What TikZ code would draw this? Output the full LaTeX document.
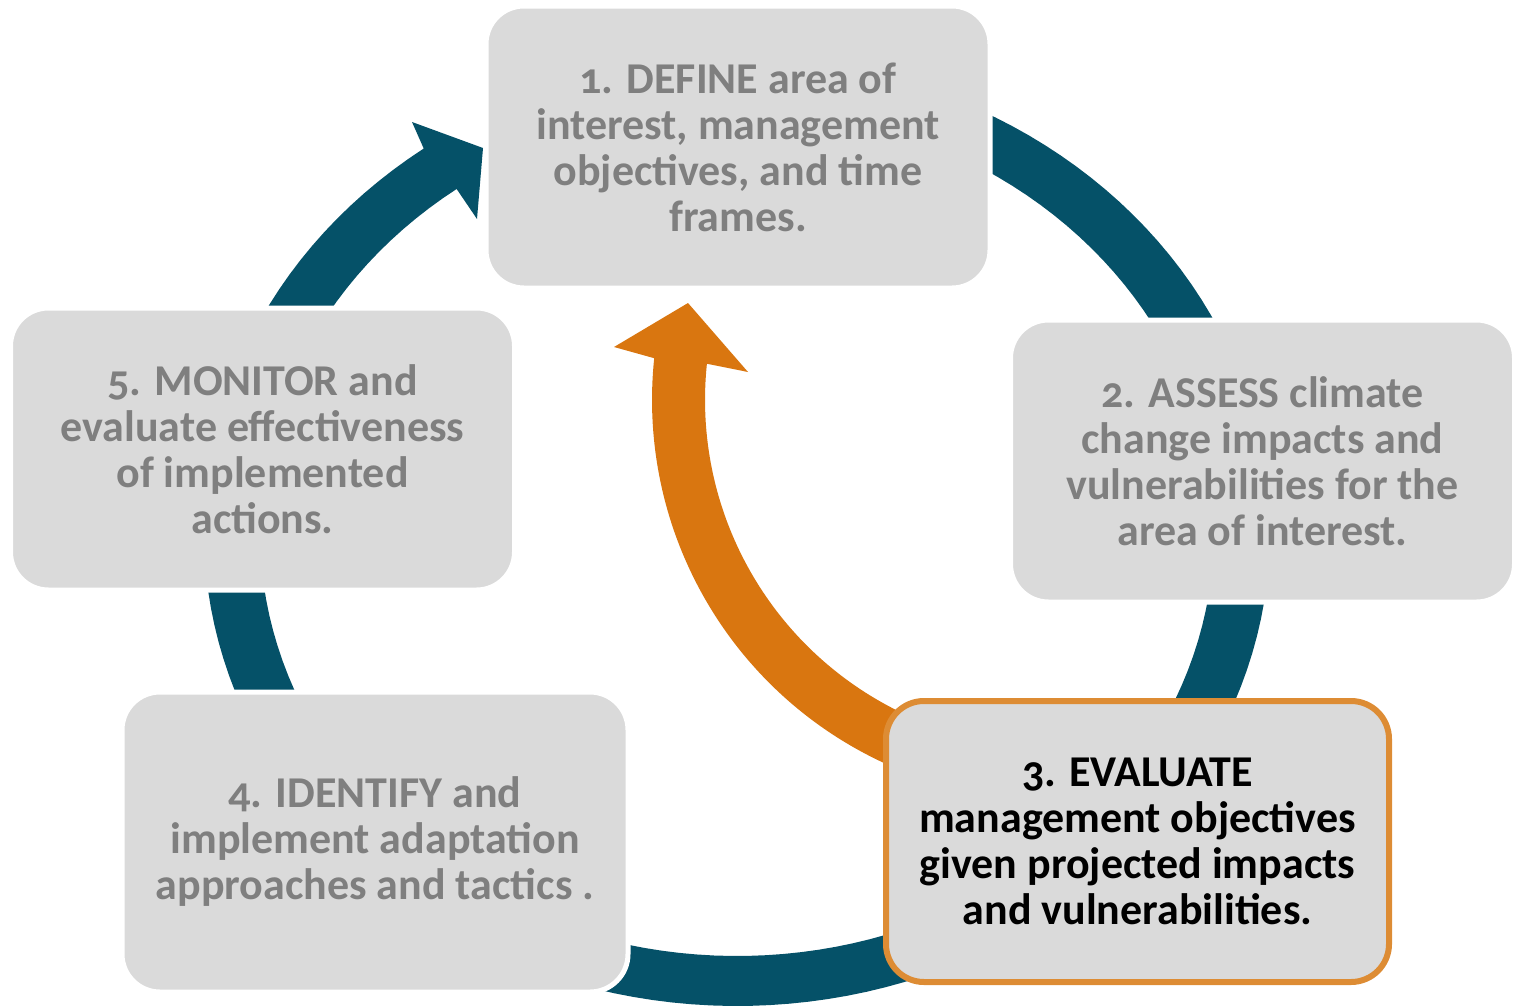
\documentclass[tikz,border=0pt]{standalone}
\usepackage{fontspec}
\setmainfont{Carlito}[Numbers=OldStyle]
\definecolor{ringblue}{RGB}{5,81,104}
\definecolor{arroworange}{RGB}{217,118,16}
\definecolor{boxgray}{RGB}{218,218,218}
\definecolor{txtgray}{RGB}{127,127,127}
\definecolor{hiline}{RGB}{221,140,52}
\begin{document}
\begin{tikzpicture}[x=0.5pt,y=-0.5pt,
  stepbox/.style={draw=white, line width=2.5pt, fill=boxgray, rounded corners=19pt,
    inner sep=0pt, align=center, text=txtgray,
    font=\bfseries\fontsize{22}{23}\selectfont},
  hibox/.style={stepbox, draw=hiline, line width=3pt, text=black}]
\useasboundingbox (0,0) rectangle (1514,1007);
% teal cycle ring with arrowhead
\fill[ringblue] plot[domain=80:-234, samples=150] ({737+533*cos(\x)},{532-474*sin(\x)})
  -- (412,122) -- (483,148) -- (477,219)
  -- plot[domain=-234:80, samples=150] ({737+477*cos(\x)},{532-424*sin(\x)}) -- cycle;
% orange feedback arrow
\fill[arroworange] plot[domain=250:174, samples=80] ({1052+400*cos(\x)},{400-400*sin(\x)})
  -- (614,347) -- (688,303) -- (748,372)
  -- plot[domain=174:250, samples=80] ({1052+347*cos(\x)},{400-347*sin(\x)}) -- cycle;
% boxes
\node[stepbox, minimum width=252pt, minimum height=141pt] (s1) at (738,147)
  {1. DEFINE area of\\ interest, management\\ objectives, and time\\ frames.};
\node[stepbox, minimum width=252pt, minimum height=141pt] (s2) at (1262.5,461)
  {2. ASSESS climate\\ change impacts and\\ vulnerabilities for the\\ area of interest.};
\node[hibox, minimum width=251.5pt, minimum height=140.5pt] (s3) at (1137.5,841.5)
  {3. EVALUATE\\ management objectives\\ given projected impacts\\ and vulnerabilities.};
\node[stepbox, minimum width=253pt, minimum height=150pt] (s4) at (375,842)
  {4. IDENTIFY and\\ implement adaptation\\ approaches and tactics .};
\node[stepbox, minimum width=252pt, minimum height=141pt] (s5) at (262.5,449)
  {5. MONITOR and\\ evaluate effectiveness\\ of implemented\\ actions.};
\end{tikzpicture}
\end{document}
